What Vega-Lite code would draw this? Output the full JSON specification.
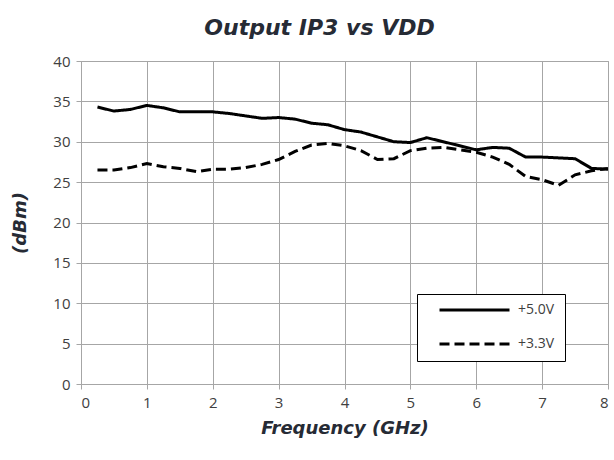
{
  "$schema": "https://vega.github.io/schema/vega-lite/v6.json",
  "autosize": "none",
  "width": 527,
  "height": 323,
  "padding": {"left": 81, "top": 61, "right": 6, "bottom": 76},
  "background": "white",
  "title": {
    "text": "Output IP3 vs VDD",
    "font": "DejaVu Sans",
    "fontSize": 22,
    "fontWeight": "bold",
    "fontStyle": "italic",
    "color": "#262b35",
    "anchor": "middle",
    "dx": -25,
    "offset": 14
  },
  "data": {
    "values": [
      {"f": 0.25, "v": 34.3, "s": "+5.0V"}, {"f": 0.5, "v": 33.8, "s": "+5.0V"}, {"f": 0.75, "v": 34.0, "s": "+5.0V"}, {"f": 1.0, "v": 34.5, "s": "+5.0V"},
      {"f": 1.25, "v": 34.2, "s": "+5.0V"}, {"f": 1.5, "v": 33.7, "s": "+5.0V"}, {"f": 1.75, "v": 33.7, "s": "+5.0V"}, {"f": 2.0, "v": 33.7, "s": "+5.0V"},
      {"f": 2.25, "v": 33.5, "s": "+5.0V"}, {"f": 2.5, "v": 33.2, "s": "+5.0V"}, {"f": 2.75, "v": 32.9, "s": "+5.0V"}, {"f": 3.0, "v": 33.0, "s": "+5.0V"},
      {"f": 3.25, "v": 32.8, "s": "+5.0V"}, {"f": 3.5, "v": 32.3, "s": "+5.0V"}, {"f": 3.75, "v": 32.1, "s": "+5.0V"}, {"f": 4.0, "v": 31.5, "s": "+5.0V"},
      {"f": 4.25, "v": 31.2, "s": "+5.0V"}, {"f": 4.5, "v": 30.6, "s": "+5.0V"}, {"f": 4.75, "v": 30.0, "s": "+5.0V"}, {"f": 5.0, "v": 29.9, "s": "+5.0V"},
      {"f": 5.25, "v": 30.5, "s": "+5.0V"}, {"f": 5.5, "v": 30.0, "s": "+5.0V"}, {"f": 5.75, "v": 29.5, "s": "+5.0V"}, {"f": 6.0, "v": 29.0, "s": "+5.0V"},
      {"f": 6.25, "v": 29.3, "s": "+5.0V"}, {"f": 6.5, "v": 29.2, "s": "+5.0V"}, {"f": 6.75, "v": 28.1, "s": "+5.0V"}, {"f": 7.0, "v": 28.1, "s": "+5.0V"},
      {"f": 7.25, "v": 28.0, "s": "+5.0V"}, {"f": 7.5, "v": 27.9, "s": "+5.0V"}, {"f": 7.75, "v": 26.7, "s": "+5.0V"}, {"f": 8.0, "v": 26.6, "s": "+5.0V"},
      {"f": 0.25, "v": 26.5, "s": "+3.3V"}, {"f": 0.5, "v": 26.5, "s": "+3.3V"}, {"f": 0.75, "v": 26.8, "s": "+3.3V"}, {"f": 1.0, "v": 27.3, "s": "+3.3V"},
      {"f": 1.25, "v": 26.9, "s": "+3.3V"}, {"f": 1.5, "v": 26.7, "s": "+3.3V"}, {"f": 1.75, "v": 26.3, "s": "+3.3V"}, {"f": 2.0, "v": 26.6, "s": "+3.3V"},
      {"f": 2.25, "v": 26.6, "s": "+3.3V"}, {"f": 2.5, "v": 26.8, "s": "+3.3V"}, {"f": 2.75, "v": 27.2, "s": "+3.3V"}, {"f": 3.0, "v": 27.8, "s": "+3.3V"},
      {"f": 3.25, "v": 28.8, "s": "+3.3V"}, {"f": 3.5, "v": 29.6, "s": "+3.3V"}, {"f": 3.75, "v": 29.8, "s": "+3.3V"}, {"f": 4.0, "v": 29.5, "s": "+3.3V"},
      {"f": 4.25, "v": 28.9, "s": "+3.3V"}, {"f": 4.5, "v": 27.8, "s": "+3.3V"}, {"f": 4.75, "v": 27.9, "s": "+3.3V"}, {"f": 5.0, "v": 28.9, "s": "+3.3V"},
      {"f": 5.25, "v": 29.2, "s": "+3.3V"}, {"f": 5.5, "v": 29.3, "s": "+3.3V"}, {"f": 5.75, "v": 29.0, "s": "+3.3V"}, {"f": 6.0, "v": 28.7, "s": "+3.3V"},
      {"f": 6.25, "v": 28.1, "s": "+3.3V"}, {"f": 6.5, "v": 27.2, "s": "+3.3V"}, {"f": 6.75, "v": 25.7, "s": "+3.3V"}, {"f": 7.0, "v": 25.3, "s": "+3.3V"},
      {"f": 7.25, "v": 24.6, "s": "+3.3V"}, {"f": 7.5, "v": 25.9, "s": "+3.3V"}, {"f": 7.75, "v": 26.4, "s": "+3.3V"}, {"f": 8.0, "v": 26.7, "s": "+3.3V"}
    ]
  },
  "mark": {"type": "line", "strokeWidth": 3, "color": "black", "clip": true},
  "encoding": {
    "x": {
      "field": "f", "type": "quantitative",
      "scale": {"domain": [0, 8], "nice": false, "zero": true},
      "axis": {
        "title": "Frequency (GHz)",
        "values": [0, 1, 2, 3, 4, 5, 6, 7, 8],
        "titleFont": "DejaVu Sans", "titleFontSize": 18, "titleFontWeight": "bold", "titleFontStyle": "italic",
        "titleColor": "#262b35", "titlePadding": 9,
        "labelFont": "Open Sans", "labelFontSize": 15, "labelColor": "#404040", "labelPadding": 6,
        "grid": true, "gridColor": "#a6a6a6", "gridWidth": 1,
        "domainColor": "#a6a6a6", "tickColor": "#a6a6a6", "tickSize": 5
      }
    },
    "y": {
      "field": "v", "type": "quantitative",
      "scale": {"domain": [0, 40], "nice": false},
      "axis": {
        "title": "(dBm)",
        "values": [0, 5, 10, 15, 20, 25, 30, 35, 40],
        "titleFont": "DejaVu Sans", "titleFontSize": 18, "titleFontWeight": "bold", "titleFontStyle": "italic",
        "titleColor": "#262b35", "titlePadding": 23,
        "labelFont": "Open Sans", "labelFontSize": 15, "labelColor": "#404040", "labelPadding": 6,
        "grid": true, "gridColor": "#a6a6a6", "gridWidth": 1,
        "domainColor": "#a6a6a6", "tickColor": "#a6a6a6", "tickSize": 5
      }
    },
    "strokeDash": {
      "field": "s", "type": "nominal",
      "scale": {"domain": ["+5.0V", "+3.3V"], "range": [[1, 0], [10, 5]]},
      "legend": {
        "title": null,
        "orient": "none",
        "legendX": 336,
        "legendY": 233,
        "direction": "vertical",
        "symbolType": "stroke",
        "symbolSize": 4900,
        "symbolStrokeWidth": 3,
        "symbolStrokeColor": "black",
        "symbolOffset": 11,
        "clipHeight": 12,
        "labelFont": "Open Sans",
        "labelFontSize": 14,
        "labelColor": "#404040",
        "labelExpr": "datum.label + '   '",
        "rowPadding": 20,
        "padding": 10,
        "strokeColor": "black",
        "fillColor": "white",
        "labelOffset": 7
      }
    }
  },
  "config": {"view": {"stroke": "#a6a6a6"}}
}
